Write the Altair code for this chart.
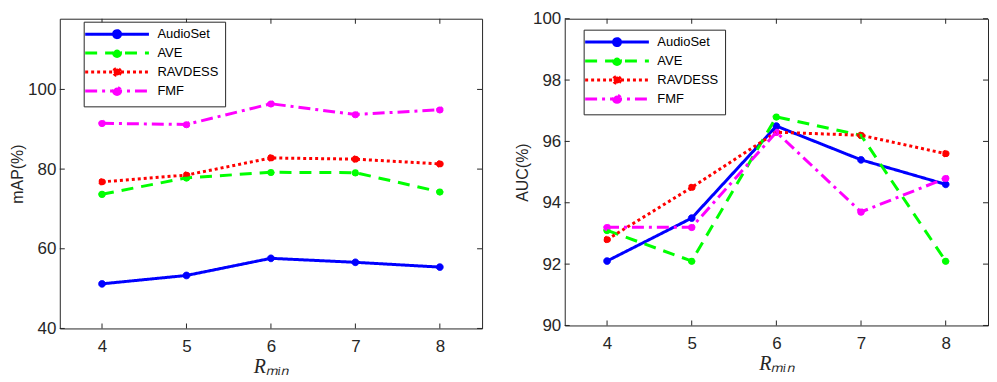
import altair as alt
import pandas as pd

r_min = [4, 5, 6, 7, 8]
series = ["AudioSet", "AVE", "RAVDESS", "FMF"]
colors = ["#0000FF", "#00FF00", "#FF0000", "#FF00FF"]
dashes = [[1, 0], [12, 8], [3, 3], [12, 5, 3, 5]]

map_audioset = [51.2, 53.3, 57.6, 56.6, 55.4]
map_ave = [73.7, 77.8, 79.2, 79.1, 74.3]
map_ravdess = [76.8, 78.5, 82.8, 82.5, 81.3]
map_fmf = [91.5, 91.2, 96.4, 93.7, 94.9]

auc_audioset = [92.1, 93.5, 96.5, 95.4, 94.6]
auc_ave = [93.1, 92.1, 96.8, 96.2, 92.1]
auc_ravdess = [92.8, 94.5, 96.3, 96.2, 95.6]
auc_fmf = [93.2, 93.2, 96.3, 93.7, 94.8]

map_ticks = [40, 60, 80, 100]
auc_ticks = [90, 92, 94, 96, 98, 100]
x_domain = [3.5, 8.5]


def long_df(vals):
    rows = []
    for s, v in zip(series, vals):
        for r, y in zip(r_min, v):
            rows.append({"r": r, "v": y, "s": s})
    return pd.DataFrame(rows)


df_map = long_df([map_audioset, map_ave, map_ravdess, map_fmf])
df_auc = long_df([auc_audioset, auc_ave, auc_ravdess, auc_fmf])

FONT = "Liberation Sans"
AX = "#262626"
SYMBOL = "M-32,0H32M3.5,0A3.5,3.5,0,1,1,-3.5,0A3.5,3.5,0,1,1,3.5,0Z"
TL = 5  # inward tick length (px)


def panel(df, ytitle, ydomain, yticks, w, h, lx, ly):
    xs = alt.Scale(domain=x_domain, nice=False, zero=False)
    ys = alt.Scale(domain=ydomain, nice=False, zero=False)
    x_main = alt.X("r:Q", scale=xs, axis=alt.Axis(
        orient="bottom", values=r_min, format="d", ticks=False, grid=False, domain=False,
        labelPadding=10, labelFontSize=17, labelFont=FONT, labelColor=AX,
        title="Rₘᵢₙ", titleFont="Liberation Serif", titleFontStyle="italic",
        titleFontWeight="normal", titleFontSize=20, titleColor=AX, titlePadding=2))
    y_main = alt.Y("v:Q", scale=ys, axis=alt.Axis(
        orient="left", values=yticks, ticks=False, grid=False, domain=False,
        labelPadding=4, labelFontSize=17, labelFont=FONT, labelColor=AX,
        title=ytitle, titleFont=FONT, titleFontSize=16, titleFontWeight="normal",
        titleColor=AX, titlePadding=2.5))
    leg = alt.Legend(orient="none", legendX=lx, legendY=ly, title=None,
                     symbolType=SYMBOL, symbolSize=4, symbolStrokeWidth=3,
                     symbolOffset=21, labelOffset=34,
                     labelFont=FONT, labelFontSize=13, labelColor="black",
                     padding=6, rowPadding=0, fillColor="white", strokeColor=AX)
    stroke_scale = alt.Scale(domain=series, range=colors)
    dash_scale = alt.Scale(domain=series, range=dashes)

    points = alt.Chart(df).mark_point(filled=True, size=45, opacity=1, strokeWidth=1).encode(
        x=alt.X("r:Q", scale=xs),
        y=alt.Y("v:Q", scale=ys),
        fill=alt.Fill("s:N", scale=stroke_scale, legend=leg),
        stroke=alt.Stroke("s:N", scale=stroke_scale, legend=leg),
        strokeDash=alt.StrokeDash("s:N", scale=dash_scale, legend=leg),
    )
    lines = alt.Chart(df).mark_line(strokeWidth=3, strokeCap="butt").encode(
        x=x_main, y=y_main,
        stroke=alt.Stroke("s:N", scale=stroke_scale, legend=leg),
        strokeDash=alt.StrokeDash("s:N", scale=dash_scale, legend=leg),
    )
    # inward tick marks on all four sides, positioned by the scales
    bottom_t = pd.DataFrame({"r": r_min, "v": [ydomain[0]] * len(r_min)})
    top_t = pd.DataFrame({"r": r_min, "v": [ydomain[1]] * len(r_min)})
    left_t = pd.DataFrame({"r": [x_domain[0]] * len(yticks), "v": yticks})
    right_t = pd.DataFrame({"r": [x_domain[1]] * len(yticks), "v": yticks})

    def tick_layer(d, orient, **off):
        return alt.Chart(d).mark_tick(orient=orient, size=TL, thickness=1, color=AX,
                                      opacity=1, **off).encode(
            x=alt.X("r:Q", scale=xs), y=alt.Y("v:Q", scale=ys))

    ticks = [
        tick_layer(bottom_t, "vertical", yOffset=-TL / 2),
        tick_layer(top_t, "vertical", yOffset=TL / 2),
        tick_layer(left_t, "horizontal", xOffset=TL / 2),
        tick_layer(right_t, "horizontal", xOffset=-TL / 2),
    ]
    return alt.layer(points, lines, *ticks).properties(width=w, height=h)


left = panel(df_map, "mAP(%)", [40, 117.75], map_ticks, 424, 311, 24, 3)
right = panel(df_auc, "AUC(%)", [90, 100], auc_ticks, 425, 308, 19, 11)

chart = alt.concat(left, right, columns=2, spacing=30).resolve_scale(
    stroke="independent", fill="independent", strokeDash="independent"
).configure_view(stroke=AX, strokeWidth=1).properties(
    padding={"left": 0, "top": 0, "right": 0, "bottom": 0}, background="white")

chart.save("out.html", embed_options={"renderer": "svg", "actions": False})
